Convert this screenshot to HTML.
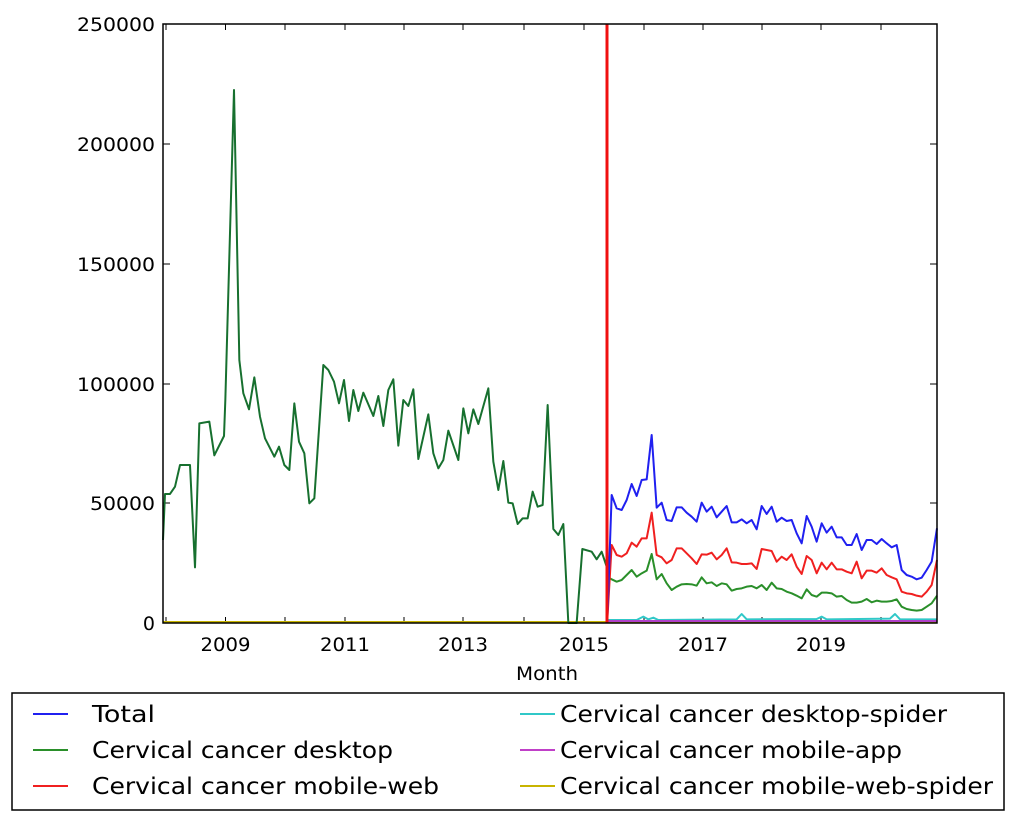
<!DOCTYPE html>
<html><head><meta charset="utf-8"><style>
body{margin:0;background:#fff;}
svg{display:block;font-family:"DejaVu Sans","Liberation Sans",sans-serif;}
</style></head><body>
<svg width="1016" height="816" viewBox="0 0 1016 816">
<rect width="1016" height="816" fill="#fff"/>
<g font-size="19" text-anchor="end" fill="#000" lengthAdjust="spacingAndGlyphs">
<text x="155" y="31" textLength="78" lengthAdjust="spacingAndGlyphs">250000</text>
<text x="155" y="151" textLength="78" lengthAdjust="spacingAndGlyphs">200000</text>
<text x="155" y="271" textLength="78" lengthAdjust="spacingAndGlyphs">150000</text>
<text x="155" y="391" textLength="78" lengthAdjust="spacingAndGlyphs">100000</text>
<text x="155" y="510" textLength="65" lengthAdjust="spacingAndGlyphs">50000</text>
<text x="155" y="630">0</text>
</g>
<g stroke="#000" stroke-width="1">
<line x1="163" y1="24" x2="170" y2="24"/><line x1="930" y1="24" x2="937" y2="24"/>
<line x1="163" y1="144" x2="170" y2="144"/><line x1="930" y1="144" x2="937" y2="144"/>
<line x1="163" y1="264" x2="170" y2="264"/><line x1="930" y1="264" x2="937" y2="264"/>
<line x1="163" y1="384" x2="170" y2="384"/><line x1="930" y1="384" x2="937" y2="384"/>
<line x1="163" y1="503" x2="170" y2="503"/><line x1="930" y1="503" x2="937" y2="503"/>
</g>
<g stroke="#000" stroke-width="1">
<line x1="166" y1="623" x2="166" y2="617"/><line x1="225.5" y1="623" x2="225.5" y2="617"/>
<line x1="285" y1="623" x2="285" y2="617"/><line x1="345" y1="623" x2="345" y2="617"/>
<line x1="404" y1="623" x2="404" y2="617"/><line x1="463" y1="623" x2="463" y2="617"/>
<line x1="524" y1="623" x2="524" y2="617"/><line x1="584" y1="623" x2="584" y2="617"/>
<line x1="644" y1="623" x2="644" y2="617"/><line x1="703" y1="623" x2="703" y2="617"/>
<line x1="762" y1="623" x2="762" y2="617"/><line x1="821" y1="623" x2="821" y2="617"/>
<line x1="881" y1="623" x2="881" y2="617"/>
<line x1="166" y1="24" x2="166" y2="30"/><line x1="225.5" y1="24" x2="225.5" y2="30"/>
<line x1="285" y1="24" x2="285" y2="30"/><line x1="345" y1="24" x2="345" y2="30"/>
<line x1="404" y1="24" x2="404" y2="30"/><line x1="463" y1="24" x2="463" y2="30"/>
<line x1="524" y1="24" x2="524" y2="30"/><line x1="584" y1="24" x2="584" y2="30"/>
<line x1="644" y1="24" x2="644" y2="30"/><line x1="703" y1="24" x2="703" y2="30"/>
<line x1="762" y1="24" x2="762" y2="30"/><line x1="821" y1="24" x2="821" y2="30"/>
<line x1="881" y1="24" x2="881" y2="30"/>
</g>
<g font-size="19" text-anchor="middle" fill="#000">
<text x="225.5" y="651" textLength="50" lengthAdjust="spacingAndGlyphs">2009</text>
<text x="345" y="651" textLength="50" lengthAdjust="spacingAndGlyphs">2011</text>
<text x="463" y="651" textLength="50" lengthAdjust="spacingAndGlyphs">2013</text>
<text x="584" y="651" textLength="50" lengthAdjust="spacingAndGlyphs">2015</text>
<text x="703" y="651" textLength="50" lengthAdjust="spacingAndGlyphs">2017</text>
<text x="821" y="651" textLength="50" lengthAdjust="spacingAndGlyphs">2019</text>
<text x="547" y="680" textLength="62" lengthAdjust="spacingAndGlyphs">Month</text>
</g>
<line x1="163" y1="622" x2="937" y2="622" stroke="#c8b400" stroke-width="2"/>
<g transform="translate(150,350) scale(0.33333)" fill="none" stroke-width="2" stroke-linejoin="round">
<polyline vector-effect="non-scaling-stroke" stroke="#17702f" points="39,570 45,432 60,432 75,410 90,345 120,345 135,652 148,220 178,215 193,316 222,258 226,150 252,-780 268,30 280,130 297,178 313,82 330,200 345,265 373,320 387,290 403,345 418,360 433,160 447,275 463,310 478,460 493,445 520,45 535,60 552,95 567,160 582,90 597,213 610,120 625,183 640,128 670,198 685,138 700,228 715,120 730,88 745,287 760,150 775,168 790,118 805,327 835,193 850,310 865,355 880,330 895,242 925,330 940,175 955,250 970,178 985,222 1015,115 1030,335 1045,420 1060,333 1075,458 1088,460 1103,522 1118,505 1133,505 1148,425 1163,470 1178,465 1193,165 1210,537 1225,555 1240,522 1255,819 1280,819 1297,597 1325,605 1340,628 1355,605 1370,650 1375,690"/>
</g>
<g transform="translate(590,420) scale(0.33333)" fill="none" stroke-width="2" stroke-linejoin="round">
<polyline vector-effect="non-scaling-stroke" stroke="#30c8c8" points="55,600 140,600 160,590 175,598 190,593 205,600 440,598 455,582 470,598 680,597 695,590 710,598 900,596 915,582 930,598 1040,598"/>
<polyline vector-effect="non-scaling-stroke" stroke="#b040c8" points="55,603 1040,603"/>
<polyline vector-effect="non-scaling-stroke" stroke="#2a8f2a" points="52,470 65,478 80,485 95,480 110,465 125,450 140,470 155,460 170,452 185,402 200,478 215,462 230,490 245,510 260,500 275,493 290,492 305,493 320,497 335,472 350,490 365,487 380,498 395,490 410,493 425,512 440,507 455,505 470,500 485,498 500,505 515,495 530,510 545,488 560,505 575,507 590,515 605,520 620,527 635,535 650,508 665,525 680,530 695,518 710,518 725,520 740,530 755,528 770,540 785,548 800,548 815,545 830,537 845,547 860,542 875,545 890,545 905,543 920,538 935,560 950,567 965,570 980,572 995,570 1010,560 1025,550 1041,527"/>
<polyline vector-effect="non-scaling-stroke" stroke="#f02020" points="52,600 65,375 80,405 95,410 110,400 125,368 140,380 155,355 170,355 185,278 200,405 215,412 230,430 245,420 260,385 275,385 290,400 305,415 320,432 335,403 350,404 365,398 380,418 395,405 410,385 425,427 440,428 455,432 470,432 485,430 500,447 515,387 530,390 545,393 560,425 575,410 590,420 605,403 620,440 635,462 650,408 665,420 680,460 695,428 710,448 725,428 740,448 755,448 770,455 785,460 800,425 815,475 830,452 845,452 860,458 875,445 890,465 905,472 920,478 935,515 950,520 965,522 980,527 995,530 1010,515 1025,495 1041,420"/>
<polyline vector-effect="non-scaling-stroke" stroke="#2020f0" points="52,600 65,225 80,265 95,270 110,240 125,192 140,228 155,180 170,178 185,45 200,263 215,248 230,300 245,303 260,262 275,262 290,278 305,290 320,305 335,248 350,275 365,260 380,292 395,275 410,258 425,307 440,307 455,298 470,310 485,300 500,328 515,258 530,282 545,260 560,305 575,293 590,303 605,300 620,340 635,370 650,288 665,320 680,365 695,310 710,338 725,320 740,352 755,352 770,375 785,375 800,342 815,390 830,360 845,360 860,372 875,357 890,370 905,382 920,375 935,450 950,465 965,470 980,478 995,473 1010,450 1025,425 1041,325"/>
</g>
<line x1="607" y1="24" x2="607" y2="623" stroke="#f01010" stroke-width="3"/>
<rect x="163" y="24" width="774" height="599" fill="none" stroke="#000" stroke-width="1.5"/>
<rect x="12" y="693" width="992" height="117" fill="#fff" stroke="#000" stroke-width="1.5"/>
<g font-size="23" fill="#000">
<line x1="33" y1="714" x2="68" y2="714" stroke="#2020f0" stroke-width="2"/><text x="92" y="722" textLength="63" lengthAdjust="spacingAndGlyphs">Total</text>
<line x1="33" y1="750" x2="68" y2="750" stroke="#2a8f2a" stroke-width="2"/><text x="92" y="758" textLength="301" lengthAdjust="spacingAndGlyphs">Cervical cancer desktop</text>
<line x1="33" y1="786" x2="68" y2="786" stroke="#f02020" stroke-width="2"/><text x="92" y="794" textLength="347" lengthAdjust="spacingAndGlyphs">Cervical cancer mobile-web</text>
<line x1="520" y1="714" x2="555" y2="714" stroke="#30c8c8" stroke-width="2"/><text x="560" y="722" textLength="387" lengthAdjust="spacingAndGlyphs">Cervical cancer desktop-spider</text>
<line x1="520" y1="750" x2="555" y2="750" stroke="#c040c8" stroke-width="2"/><text x="560" y="758" textLength="342" lengthAdjust="spacingAndGlyphs">Cervical cancer mobile-app</text>
<line x1="520" y1="786" x2="555" y2="786" stroke="#c8b400" stroke-width="2"/><text x="560" y="794" textLength="433" lengthAdjust="spacingAndGlyphs">Cervical cancer mobile-web-spider</text>
</g>
</svg>
</body></html>
